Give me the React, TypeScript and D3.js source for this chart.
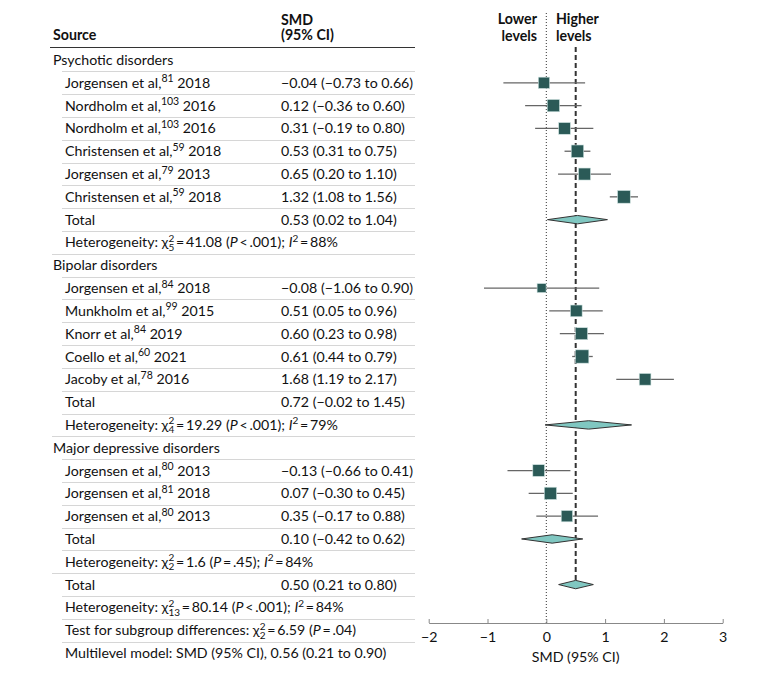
import React, { useEffect, useRef } from "react";
import * as d3 from "d3";

const WIDTH = 780;
const HEIGHT = 676;
const FONT = "Lato, 'Liberation Sans', sans-serif";
const FS = 14.2;

// ---- data ----
const groups = ["Psychotic disorders", "Bipolar disorders", "Major depressive disorders"];

const studyAuthors = [
  "Jorgensen et al", "Nordholm et al", "Nordholm et al", "Christensen et al", "Jorgensen et al", "Christensen et al",
  "Jorgensen et al", "Munkholm et al", "Knorr et al", "Coello et al", "Jacoby et al",
  "Jorgensen et al", "Jorgensen et al", "Jorgensen et al",
];
const studyRefs = [81, 103, 103, 59, 79, 59, 84, 99, 84, 60, 78, 80, 81, 80];
const studyYears = [2018, 2016, 2016, 2018, 2013, 2018, 2018, 2015, 2019, 2021, 2016, 2013, 2018, 2013];
const studyGroup = [0, 0, 0, 0, 0, 0, 1, 1, 1, 1, 1, 2, 2, 2];
const smd = [-0.04, 0.12, 0.31, 0.53, 0.65, 1.32, -0.08, 0.51, 0.6, 0.61, 1.68, -0.13, 0.07, 0.35];
const ciLow = [-0.73, -0.36, -0.19, 0.31, 0.2, 1.08, -1.06, 0.05, 0.23, 0.44, 1.19, -0.66, -0.3, -0.17];
const ciHigh = [0.66, 0.6, 0.8, 0.75, 1.1, 1.56, 0.9, 0.96, 0.98, 0.79, 2.17, 0.41, 0.45, 0.88];
const weights = [12.8, 15.1, 13.7, 15.6, 14.4, 16.1, 8.1, 13.7, 14.4, 17.7, 13.7, 13.7, 15.1, 12.8];

const groupSmd = [0.53, 0.72, 0.1];
const groupLow = [0.02, -0.02, -0.42];
const groupHigh = [1.04, 1.45, 0.62];
const groupDf = ["5", "4", "2"];
const groupChi2 = ["41.08", "19.29", "1.6"];
const groupP = ["< .001", "< .001", "= .45"];
const groupI2 = ["88", "79", "84"];

const overallEffect = [0.5, 0.21, 0.8];
const overallHet = { df: "13", chi2: "80.14", p: "< .001", i2: "84" };
const subgroupTest = { df: "2", chi2: "6.59", p: "= .04" };
const multilevelEffect = [0.56, 0.21, 0.9];

const xTicks = [-2, -1, 0, 1, 2, 3];

// bipolar pooled diamond sits one row lower in the original figure
const diamondShift = [0, 1, 0];

type Piece = { t: string; k?: "i" | "sup" | "ss"; sub?: string };

const fmt = (v: number) => (v < 0 ? "\u2212" : "") + Math.abs(v).toFixed(2);
const ci = (m: number, l: number, h: number) => `${fmt(m)} (${fmt(l)} to ${fmt(h)})`;
const T = "\u2009";

const hetPieces = (df: string, chi2: string, p: string, i2: string): Piece[] => [
  { t: "Heterogeneity: \u03c7" },
  { t: "2", k: "ss", sub: df },
  { t: `${T}=${T}${chi2} (` },
  { t: "P", k: "i" },
  { t: `${T}${p.replace(" ", T)});\u00a0` },
  { t: "I", k: "i" },
  { t: "2", k: "sup" },
  { t: `${T}=${T}${i2}%` },
];

type Row =
  | { kind: "group"; label: string }
  | { kind: "study"; i: number }
  | { kind: "total"; m: number; l: number; h: number; diamond: number }
  | { kind: "rich"; pieces: Piece[]; full: boolean }
  | { kind: "plain"; label: string };

const buildRows = (): Row[] => {
  const rows: Row[] = [];
  groups.forEach((g, gi) => {
    rows.push({ kind: "group", label: g });
    studyGroup.forEach((sg, i) => {
      if (sg === gi) rows.push({ kind: "study", i });
    });
    rows.push({ kind: "total", m: groupSmd[gi], l: groupLow[gi], h: groupHigh[gi], diamond: diamondShift[gi] });
    rows.push({ kind: "rich", pieces: hetPieces(groupDf[gi], groupChi2[gi], groupP[gi], groupI2[gi]), full: true });
  });
  rows.push({ kind: "total", m: overallEffect[0], l: overallEffect[1], h: overallEffect[2], diamond: 0 });
  rows.push({ kind: "rich", pieces: hetPieces(overallHet.df, overallHet.chi2, overallHet.p, overallHet.i2), full: false });
  rows.push({
    kind: "rich",
    full: false,
    pieces: [
      { t: "Test for subgroup differences: \u03c7" },
      { t: "2", k: "ss", sub: subgroupTest.df },
      { t: `${T}=${T}${subgroupTest.chi2} (` },
      { t: "P", k: "i" },
      { t: `${T}${subgroupTest.p.replace(" ", T)})` },
    ],
  });
  rows.push({
    kind: "plain",
    label: `Multilevel model: SMD (95% CI), ${ci(multilevelEffect[0], multilevelEffect[1], multilevelEffect[2])}`,
  });
  return rows;
};

const App = () => {
  const svgRef = useRef<SVGSVGElement>(null);

  useEffect(() => {
    const svg = d3.select(svgRef.current);
    svg.selectAll("*").remove();
    const rows = buildRows();

    const x = d3.scaleLinear().domain([-2, 3]).range([428.7, 722.7]);
    const y = d3.scaleLinear().domain([0, rows.length - 1]).range([60, 653]);
    const size = d3.scaleSqrt().domain([0, d3.max(weights) as number]).range([0, 13.3]);

    const xLabel = 53;
    const xStudy = 65;
    const xVal = 281;
    const tableRight = 415;
    const axisY = 623;
    const step = y(1) - y(0);

    const txt = svg.append("g").attr("font-family", FONT).attr("font-size", FS).attr("fill", "#111")
      .style("white-space", "pre");

    // header
    txt.append("text").attr("x", xLabel).attr("y", 40).attr("font-weight", 700).text("Source");
    txt.append("text").attr("x", xVal).attr("y", 25).attr("font-weight", 700).text("SMD");
    txt.append("text").attr("x", xVal).attr("y", 40).attr("font-weight", 700).text("(95% CI)");
    txt.append("text").attr("x", 537).attr("y", 24).attr("text-anchor", "end").attr("font-weight", 700).text("Lower");
    txt.append("text").attr("x", 537).attr("y", 41).attr("text-anchor", "end").attr("font-weight", 700).text("levels");
    txt.append("text").attr("x", 556).attr("y", 24).attr("font-weight", 700).text("Higher");
    txt.append("text").attr("x", 556).attr("y", 41).attr("font-weight", 700).text("levels");

    svg.append("line").attr("x1", 50).attr("x2", tableRight).attr("y1", 47.5).attr("y2", 47.5)
      .attr("stroke", "#333").attr("stroke-width", 1);

    // separators
    rows.forEach((r, i) => {
      if (i === rows.length - 1) return;
      const yy = Math.round(y(i) + step / 2) + 0.5;
      const start = r.kind === "rich" && r.full ? 52 : 62;
      svg.append("line").attr("x1", start).attr("x2", tableRight).attr("y1", yy).attr("y2", yy)
        .attr("stroke", "#d6d6d6").attr("stroke-width", 1);
    });

    const drawRich = (x0: number, yb: number, pieces: Piece[]) => {
      let cx = x0;
      pieces.forEach((p) => {
        if (p.k === "ss") {
          const a = txt.append("text").attr("x", cx).attr("y", yb - 5.5).attr("font-size", 10).text(p.t);
          const b = txt.append("text").attr("x", cx).attr("y", yb + 3.5).attr("font-size", 10).text(p.sub || "");
          const w = Math.max((a.node() as SVGTextElement).getComputedTextLength(), (b.node() as SVGTextElement).getComputedTextLength());
          cx += w;
        } else {
          const t = txt.append("text").attr("x", cx).attr("y", p.k === "sup" ? yb - 5.5 : yb).text(p.t);
          if (p.k === "sup") t.attr("font-size", 10);
          if (p.k === "i") t.attr("font-style", "italic");
          cx += (t.node() as SVGTextElement).getComputedTextLength();
        }
      });
    };

    // dotted null line and dashed overall line
    svg.append("line").attr("x1", x(0)).attr("x2", x(0)).attr("y1", 13).attr("y2", axisY)
      .attr("stroke", "#333").attr("stroke-width", 1).attr("stroke-dasharray", "1,2");
    const overallRow = rows.findIndex((r, i) => r.kind === "total" && i > rows.length - 6);
    svg.append("line").attr("x1", x(overallEffect[0])).attr("x2", x(overallEffect[0]))
      .attr("y1", 47).attr("y2", y(overallRow))
      .attr("stroke", "#333").attr("stroke-width", 2).attr("stroke-dasharray", "5,3");

    const marks = svg.append("g");

    rows.forEach((r, i) => {
      const yc = y(i);
      const yb = yc + 5;
      if (r.kind === "group") {
        txt.append("text").attr("x", xLabel).attr("y", yb).text(r.label);
      } else if (r.kind === "study") {
        const k = r.i;
        const t = txt.append("text").attr("x", xStudy).attr("y", yb);
        t.append("tspan").text(`${studyAuthors[k]},`);
        t.append("tspan").attr("font-size", 10.5).attr("dy", -5.5).text(String(studyRefs[k]));
        t.append("tspan").attr("dy", 5.5).text(` ${studyYears[k]}`);
        txt.append("text").attr("x", xVal).attr("y", yb).text(ci(smd[k], ciLow[k], ciHigh[k]));
        marks.append("line").attr("x1", x(ciLow[k])).attr("x2", x(ciHigh[k])).attr("y1", yc).attr("y2", yc)
          .attr("stroke", "#666").attr("stroke-width", 1.3);
        const s = size(weights[k]);
        marks.append("rect").attr("x", x(smd[k]) - s / 2).attr("y", yc - s / 2).attr("width", s).attr("height", s)
          .attr("fill", "#2b5a57").attr("stroke", "#cfe3e1").attr("stroke-width", 0.6);
      } else if (r.kind === "total") {
        txt.append("text").attr("x", xStudy).attr("y", yb).text("Total");
        txt.append("text").attr("x", xVal).attr("y", yb).text(ci(r.m, r.l, r.h));
        const yd = y(i + r.diamond);
        const hh = 4.2;
        const path = d3.path();
        path.moveTo(x(r.l), yd);
        path.lineTo(x(r.m), yd - hh);
        path.lineTo(x(r.h), yd);
        path.lineTo(x(r.m), yd + hh);
        path.closePath();
        marks.append("path").attr("d", path.toString()).attr("fill", "#80c7c1").attr("stroke", "#333").attr("stroke-width", 1);
      } else if (r.kind === "rich") {
        drawRich(xStudy, yb, r.pieces);
      } else {
        txt.append("text").attr("x", xStudy).attr("y", yb).text(r.label);
      }
    });

    // axis
    const axis = svg.append("g").attr("transform", `translate(0,${axisY})`)
      .call(d3.axisBottom(x).tickValues(xTicks).tickFormat(d3.format("d")).tickSizeInner(-4).tickSizeOuter(0).tickPadding(9));
    axis.select(".domain").attr("stroke", "#888");
    axis.selectAll(".tick line").attr("stroke", "#888");
    axis.selectAll(".tick text").attr("font-family", FONT).attr("font-size", FS).attr("fill", "#111");
    svg.append("text").attr("x", x(overallEffect[0])).attr("y", 662).attr("text-anchor", "middle")
      .attr("font-family", FONT).attr("font-size", FS).attr("fill", "#111").text("SMD (95% CI)");
  }, []);

  return (
    <svg
      ref={svgRef}
      width={WIDTH}
      height={HEIGHT}
      style={{ position: "absolute", left: 0, top: 0, background: "#fff" }}
    />
  );
};

export default App;
